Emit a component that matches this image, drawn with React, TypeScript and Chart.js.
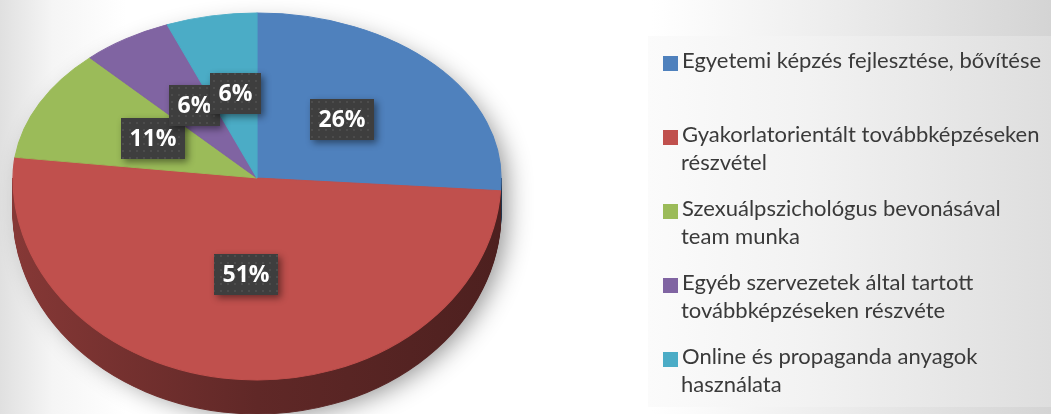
import React, { useEffect, useRef } from 'react';
import { Chart, registerables } from 'chart.js';

Chart.register(...registerables);

// ---- data ----
const categories = [
  'Egyetemi képzés fejlesztése, bővítése',
  'Gyakorlatorientált továbbképzéseken részvétel',
  'Szexuálpszichológus bevonásával team munka',
  'Egyéb szervezetek által tartott továbbképzéseken részvéte',
  'Online és propaganda anyagok használata',
];
const legendLines = [
  ['Egyetemi képzés fejlesztése, bővítése', ''],
  ['Gyakorlatorientált továbbképzéseken', 'részvétel'],
  ['Szexuálpszichológus bevonásával', 'team munka'],
  ['Egyéb szervezetek által tartott', 'továbbképzéseken részvéte'],
  ['Online és propaganda anyagok', 'használata'],
];
const shares = [26, 51, 11, 6, 6];
const sliceColors = ['#4f81bd', '#c0504d', '#9bbb59', '#8064a2', '#4bacc6'];

// ---- view (pseudo 3D) ----
const APEX_X = 257;
const APEX_Y = 178;
const RX = 244;
const RY_TOP = 165;
const RY_BOTTOM = 202;
const DEPTH = 34;
const LABEL_RX = 117;
const LABEL_RY_TOP = 86;
const LABEL_RY_BOTTOM = 97;

function shade(hex: string, f: number) {
  const n = parseInt(hex.slice(1), 16);
  const r = Math.round(((n >> 16) & 255) * f);
  const g = Math.round(((n >> 8) & 255) * f);
  const b = Math.round((n & 255) * f);
  return `rgb(${r},${g},${b})`;
}

function applyView(ctx: CanvasRenderingContext2D, ref: any, ry: number, dy: number) {
  const r = ref.outerRadius;
  ctx.translate(APEX_X, APEX_Y + dy);
  ctx.scale(RX / r, ry / r);
  ctx.translate(-ref.x, -ref.y);
}

function drawWith(el: any, ctx: CanvasRenderingContext2D, fill: any) {
  const orig = el.options;
  el.options = Object.assign({}, orig, { backgroundColor: fill, borderColor: fill });
  el.draw(ctx);
  el.options = orig;
}

let dotPattern: CanvasPattern | null = null;
function getPattern(ctx: CanvasRenderingContext2D) {
  if (dotPattern) return dotPattern;
  const c = document.createElement('canvas');
  c.width = 7;
  c.height = 7;
  const p = c.getContext('2d')!;
  p.fillStyle = '#3e3e3e';
  p.fillRect(0, 0, 7, 7);
  p.fillStyle = '#4c4c4c';
  p.fillRect(3, 3, 2, 2);
  dotPattern = ctx.createPattern(c, 'repeat');
  return dotPattern;
}

const pie3dPlugin = {
  id: 'pie3d',
  beforeDatasetsDraw(chart: any) {
    const ctx: CanvasRenderingContext2D = chart.ctx;
    const arcs = chart.getDatasetMeta(0).data;
    if (!arcs.length) return false;
    const ref = arcs[0];
    const W = chart.width;
    const H = chart.height;
    const r = ref.outerRadius;

    // soft drop shadow under the solid (the silhouette itself is hidden by the pie drawn on top)
    ctx.save();
    ctx.shadowColor = 'rgba(0,0,0,0.45)';
    ctx.shadowBlur = 26;
    ctx.shadowOffsetX = 9;
    ctx.shadowOffsetY = 5;
    ctx.fillStyle = '#5a2222';
    ctx.beginPath();
    ctx.ellipse(APEX_X, APEX_Y + 4, RX - 4, RY_TOP - 4, 0, Math.PI, 2 * Math.PI);
    ctx.ellipse(APEX_X, APEX_Y + DEPTH - 4, RX - 4, RY_BOTTOM, 0, 0, Math.PI);
    ctx.closePath();
    ctx.fill();
    ctx.restore();

    const grads = sliceColors.map((c) => {
      const g = ctx.createLinearGradient(ref.x - r, 0, ref.x + r, 0);
      g.addColorStop(0, shade(c, 0.7));
      g.addColorStop(0.5, shade(c, 0.5));
      g.addColorStop(1, shade(c, 0.4));
      return g;
    });
    for (let d = DEPTH; d >= 1; d--) {
      ctx.save();
      ctx.beginPath();
      ctx.rect(0, APEX_Y, W, H - APEX_Y);
      ctx.clip();
      applyView(ctx, ref, RY_BOTTOM, d);
      arcs.forEach((el: any, i: number) => drawWith(el, ctx, grads[i]));
      ctx.restore();
    }
    const halves: [number, number, number][] = [
      [0, APEX_Y, RY_TOP],
      [APEX_Y, H - APEX_Y, RY_BOTTOM],
    ];
    halves.forEach(([y0, h, ry]) => {
      ctx.save();
      ctx.beginPath();
      ctx.rect(0, y0, W, h);
      ctx.clip();
      applyView(ctx, ref, ry, 0);
      arcs.forEach((el: any) => el.draw(ctx));
      ctx.restore();
    });
    return false;
  },
  afterDraw(chart: any) {
    const ctx: CanvasRenderingContext2D = chart.ctx;
    const arcs = chart.getDatasetMeta(0).data;
    const values = chart.data.datasets[0].data as number[];
    const total = values.reduce((a, b) => a + b, 0);
    ctx.save();
    ctx.font = 'bold 23px "Open Sans"';
    ctx.textAlign = 'center';
    ctx.textBaseline = 'middle';
    arcs.forEach((el: any, i: number) => {
      const mid = (el.startAngle + el.endAngle) / 2;
      const ux = Math.cos(mid);
      const uy = Math.sin(mid);
      const x = APEX_X + ux * LABEL_RX;
      const y = APEX_Y + uy * (uy < 0 ? LABEL_RY_TOP : LABEL_RY_BOTTOM);
      const text = Math.round((values[i] / total) * 100) + '%';
      const tw = ctx.measureText(text).width;
      const bw = Math.round(tw + 17);
      const bh = 41;
      const bx = Math.round(x - bw / 2);
      const by = Math.round(y - bh / 2);
      ctx.save();
      ctx.shadowColor = 'rgba(0,0,0,0.45)';
      ctx.shadowBlur = 7;
      ctx.shadowOffsetX = 3;
      ctx.shadowOffsetY = 3;
      ctx.fillStyle = '#3e3e3e';
      ctx.fillRect(bx, by, bw, bh);
      ctx.restore();
      ctx.fillStyle = getPattern(ctx) as any;
      ctx.fillRect(bx, by, bw, bh);
      ctx.fillStyle = '#ffffff';
      ctx.fillText(text, bx + bw / 2, by + bh / 2 + 1);
    });
    ctx.restore();
  },
};

export default function App() {
  const canvasRef = useRef<HTMLCanvasElement>(null);

  useEffect(() => {
    const canvas = canvasRef.current;
    if (!canvas) return;
    const chart = new Chart(canvas, {
      type: 'pie',
      data: {
        labels: categories,
        datasets: [
          {
            data: shares,
            backgroundColor: sliceColors,
            borderColor: sliceColors,
            borderWidth: 1,
            clip: false as any,
          },
        ],
      },
      options: {
        responsive: false,
        maintainAspectRatio: false,
        animation: false,
        events: [],
        layout: { padding: 0 },
        plugins: {
          legend: { display: false },
          tooltip: { enabled: false },
        },
      },
      plugins: [pie3dPlugin as any],
    });
    return () => chart.destroy();
  }, []);

  return (
    <div
      style={{
        position: 'fixed',
        left: 0,
        top: 0,
        width: 1051,
        height: 414,
        overflow: 'hidden',
        background:
          'linear-gradient(to right, #e0e0e0 0%, #f5f5f5 5%, #ffffff 12%, #ffffff 62%, #eeeeee 78%, #d4d4d4 100%)',
      }}
    >
      <div
        style={{
          position: 'absolute',
          left: 648,
          top: 36,
          width: 403,
          height: 371,
          background: 'linear-gradient(to right, #fbfbfb 0%, #f2f2f2 40%, #dedede 100%)',
        }}
      />
      <canvas
        ref={canvasRef}
        width={1051}
        height={414}
        style={{ position: 'absolute', left: 0, top: 0, width: 1051, height: 414 }}
      />
      <div
        style={{
          position: 'absolute',
          left: 0,
          top: 0,
          fontFamily: 'Lato, "Open Sans", sans-serif',
          fontSize: 22,
          color: '#3a3a3a',
        }}
      >
        {legendLines.map((lines, i) => (
          <div
            key={i}
            style={{
              position: 'absolute',
              left: 663,
              top: 46 + i * 74,
              width: 390,
              whiteSpace: 'nowrap',
            }}
          >
            <div
              style={{
                position: 'absolute',
                left: 0,
                top: 10,
                width: 15,
                height: 15,
                background: sliceColors[i],
              }}
            />
            <div style={{ position: 'absolute', left: 19, top: 0, lineHeight: '28px' }}>
              {lines[0]}
            </div>
            <div style={{ position: 'absolute', left: 18, top: 28, lineHeight: '28px' }}>
              {lines[1]}
            </div>
          </div>
        ))}
      </div>
    </div>
  );
}
